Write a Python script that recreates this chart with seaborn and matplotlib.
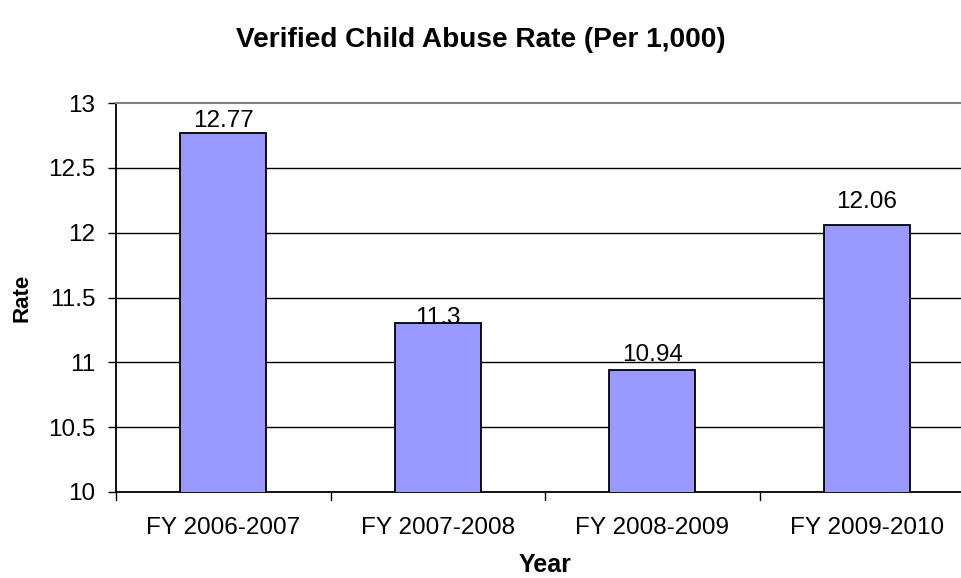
import matplotlib
matplotlib.use("Agg")
import matplotlib.pyplot as plt
import seaborn as sns
import pandas as pd

years = ["FY 2006-2007", "FY 2007-2008", "FY 2008-2009", "FY 2009-2010"]
rates = [12.77, 11.3, 10.94, 12.06]
yticks = [10, 10.5, 11, 11.5, 12, 12.5, 13]
label_offsets = [4.3, -0.5, 6.5, 12]  # points from bar top to label baseline

sns.set_theme(style="white")
plt.rcParams["font.family"] = ["Liberation Sans", "DejaVu Sans"]
plt.rcParams["text.color"] = "black"
plt.rcParams["axes.labelcolor"] = "black"
plt.rcParams["xtick.color"] = "black"
plt.rcParams["ytick.color"] = "black"

df = pd.DataFrame({"Year": years, "Rate": rates})

fig = plt.figure(figsize=(9.61, 5.78), dpi=100)
ax = fig.add_axes([116 / 961, 1 - 492 / 578, 858 / 961, (492 - 103) / 578])

sns.barplot(data=df, x="Year", y="Rate", color="#9999ff", width=0.4,
            edgecolor="black", linewidth=1.3, saturation=1, ax=ax, zorder=3)

ax.set_ylim(10, 13)
ax.set_xlim(-0.5, len(years) - 0.5)
ax.set_yticks(yticks)
ax.set_yticklabels([f"{t:g}" for t in yticks], fontsize=17.5)
ax.tick_params(axis="y", length=6, width=1, color="black", direction="out", left=True, pad=9)
ax.tick_params(axis="x", length=0, labelsize=17.5, pad=18)
for b in [-0.5, 0.5, 1.5, 2.5, 3.5]:
    ax.plot([b, b], [0, -0.02], transform=ax.get_xaxis_transform(),
            color="black", lw=1, clip_on=False)

for t in yticks[1:-1]:
    ax.axhline(t, color="black", lw=1, zorder=1)

ax.spines["right"].set_visible(False)
ax.spines["top"].set_color("#808080")
ax.spines["top"].set_linewidth(1.5)
for s in ["left", "bottom"]:
    ax.spines[s].set_color("black")
    ax.spines[s].set_linewidth(1.3)

for i, (v, off) in enumerate(zip(rates, label_offsets)):
    ax.annotate(f"{v:g}", (i, v), xytext=(0, off), textcoords="offset points",
                ha="center", va="baseline", fontsize=17.5)

ax.set_xlabel("Year", fontsize=18, fontweight="bold")
ax.set_ylabel("Rate", fontsize=16, fontweight="bold")
ax.xaxis.set_label_coords((545 - 116) / 858, -(565 - 492) / 389)
ax.yaxis.set_label_coords(-(116 - 22) / 858, (492 - 298) / 389)
ax.xaxis.label.set_va("center")
ax.yaxis.label.set_va("center")

fig.text(481 / 961, 1 - 40 / 578, "Verified Child Abuse Rate (Per 1,000)",
         ha="center", va="center", fontsize=20.2, fontweight="bold")

fig.savefig("out.png", dpi=100)
